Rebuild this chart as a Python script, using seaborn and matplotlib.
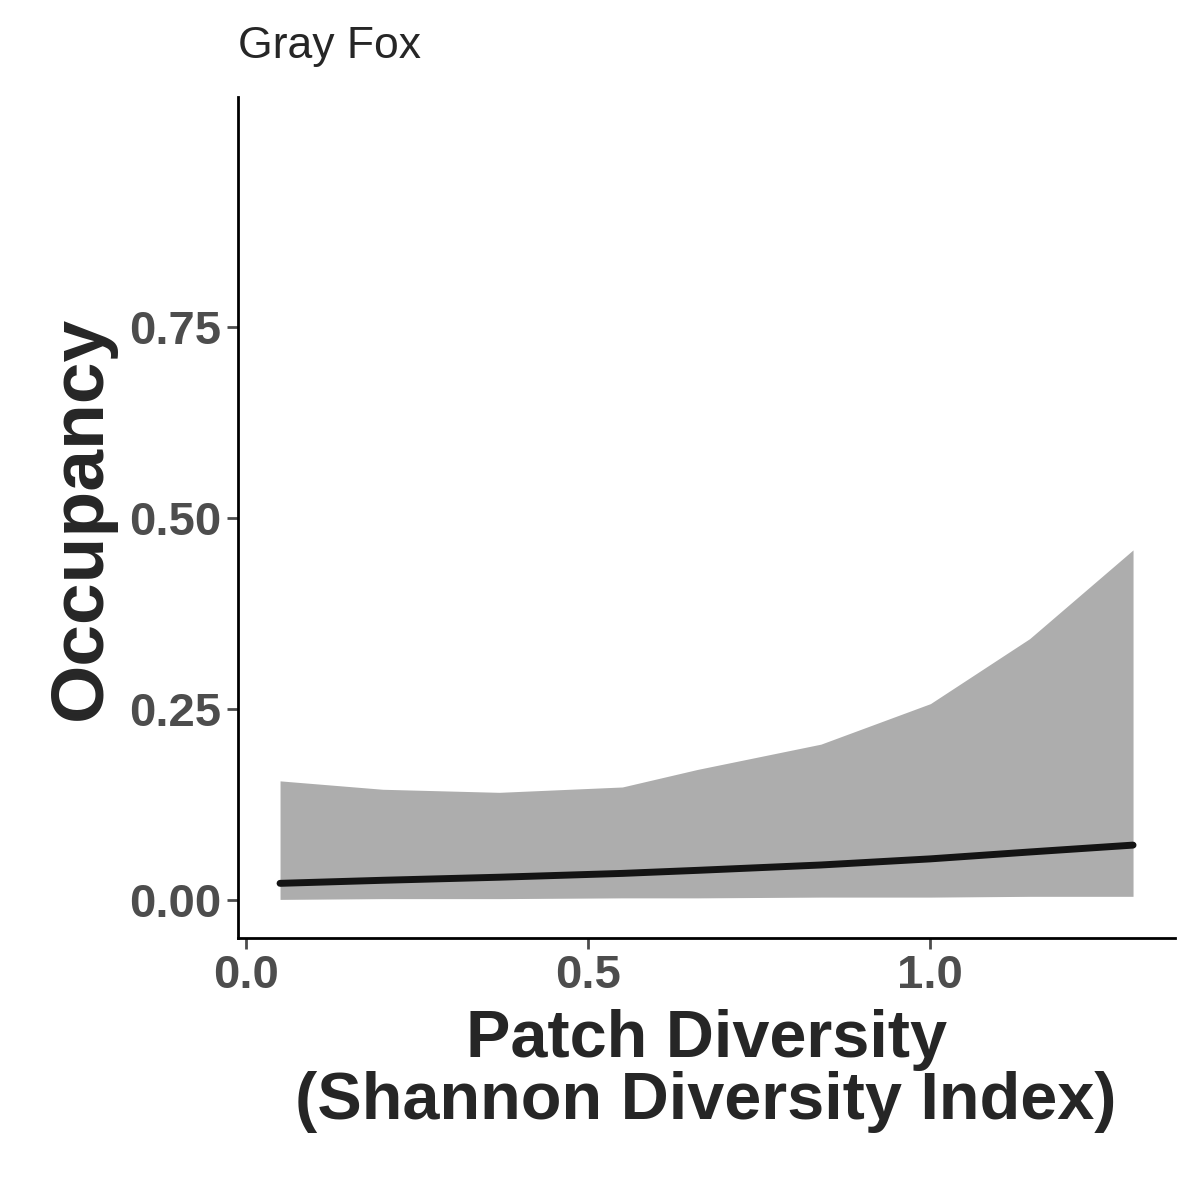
import numpy as np
import pandas as pd
import seaborn as sns
import matplotlib.pyplot as plt

# values
diversity = [0.05, 0.2, 0.37, 0.55, 0.66, 0.84, 1.0, 1.145, 1.296]
occupancy = [0.022, 0.026, 0.030, 0.035, 0.039, 0.046, 0.054, 0.063, 0.072]
upper_ci = [0.156, 0.145, 0.141, 0.148, 0.171, 0.204, 0.257, 0.342, 0.458]
lower_ci = [0.001, 0.002, 0.002, 0.003, 0.003, 0.004, 0.004, 0.005, 0.005]

df = pd.DataFrame({"diversity": diversity, "occupancy": occupancy,
                   "upper": upper_ci, "lower": lower_ci})

sns.set_style("ticks")
plt.rcParams['font.family'] = ['Liberation Sans', 'DejaVu Sans']

fig = plt.figure(figsize=(12, 12), dpi=100)
ax = fig.add_axes([0.198, 0.218, 0.781, 0.701])

ax.fill_between(df["diversity"], df["lower"], df["upper"], color="#adadad", lw=0)
sns.lineplot(data=df, x="diversity", y="occupancy", color="#141414", lw=5, ax=ax)

ax.set_xlim(-0.012, 1.357)
ax.set_ylim(-0.05, 1.05)
ax.set_xticks([0.0, 0.5, 1.0])
ax.set_xticklabels(["0.0", "0.5", "1.0"])
ax.set_yticks([0.0, 0.25, 0.5, 0.75])
ax.set_yticklabels(["0.00", "0.25", "0.50", "0.75"])
ax.tick_params(labelsize=34, colors="#4d4d4d", length=8, width=2, labelcolor="#4d4d4d")
for lab in ax.get_xticklabels() + ax.get_yticklabels():
    lab.set_fontweight("bold")
for s in ["left", "bottom"]:
    ax.spines[s].set_linewidth(2)
    ax.spines[s].set_color("black")
sns.despine(ax=ax)

ax.set_xlabel("Patch Diversity\n(Shannon Diversity Index)", fontsize=48,
              fontweight="bold", labelpad=8, linespacing=1.0)
ax.set_ylabel("Occupancy", fontsize=54, fontweight="bold", labelpad=10)
ax.set_title("Gray Fox", loc="left", fontsize=32, pad=28)

fig.savefig("out.png", dpi=100)
